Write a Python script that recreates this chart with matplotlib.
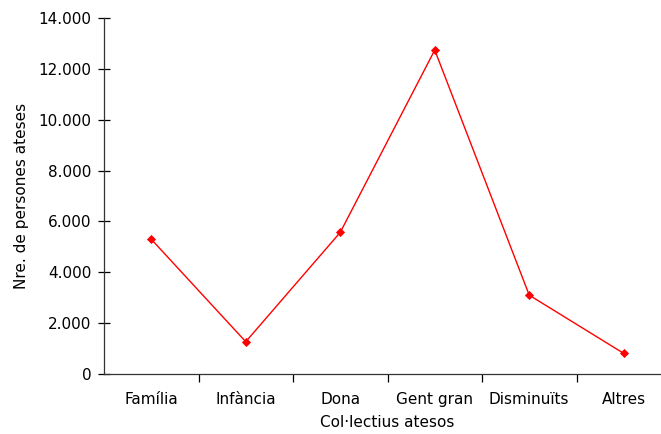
import matplotlib.pyplot as plt
from matplotlib.ticker import FuncFormatter, MultipleLocator

categories = ["Família", "Infància", "Dona", "Gent gran", "Disminuïts", "Altres"]
persones_ateses = [5300, 1270, 5570, 12740, 3100, 810]

plt.rcParams["font.family"] = ["DejaVu Sans"]

fig = plt.figure(figsize=(6.61, 4.34), dpi=100)
# the plot area runs a little past the right edge, as in the original
ax = fig.add_axes([104 / 661, 60 / 434, 567 / 661, 356 / 434])

x = range(len(categories))
ax.plot(x, persones_ateses, color="#ff0000", linewidth=1.0,
        marker="D", markersize=4.5, markeredgewidth=0.6)

ax.set_xlim(-0.5, len(categories) - 0.5)
ax.set_ylim(0, 14000)
ax.yaxis.set_major_locator(MultipleLocator(2000))
ax.yaxis.set_major_formatter(
    FuncFormatter(lambda v, _: f"{int(v):,}".replace(",", "."))
)

ax.set_xticks([i + 0.5 for i in range(len(categories) - 1)])
ax.set_xticklabels([])
ax.set_xticks(list(x), minor=True)
ax.set_xticklabels(categories, minor=True)
ax.tick_params(axis="x", which="minor", length=0, pad=13, labelsize=11)
ax.tick_params(axis="x", which="major", direction="out", length=6, width=0.9)
ax.tick_params(axis="y", direction="inout", length=8, width=0.9, pad=5,
               labelsize=11)

for side in ("top", "right"):
    ax.spines[side].set_visible(False)
for side in ("left", "bottom"):
    ax.spines[side].set_linewidth(0.9)
    ax.spines[side].set_color("#333333")

ax.set_ylabel("Nre. de persones ateses", fontsize=11)
ax.yaxis.set_label_coords(-(104 - 29) / 567, 0.5)
ax.set_xlabel("Col·lectius atesos", fontsize=11)
ax.xaxis.set_label_coords((387 - 104) / 567, -0.115)

fig.savefig("out.png", dpi=100)
